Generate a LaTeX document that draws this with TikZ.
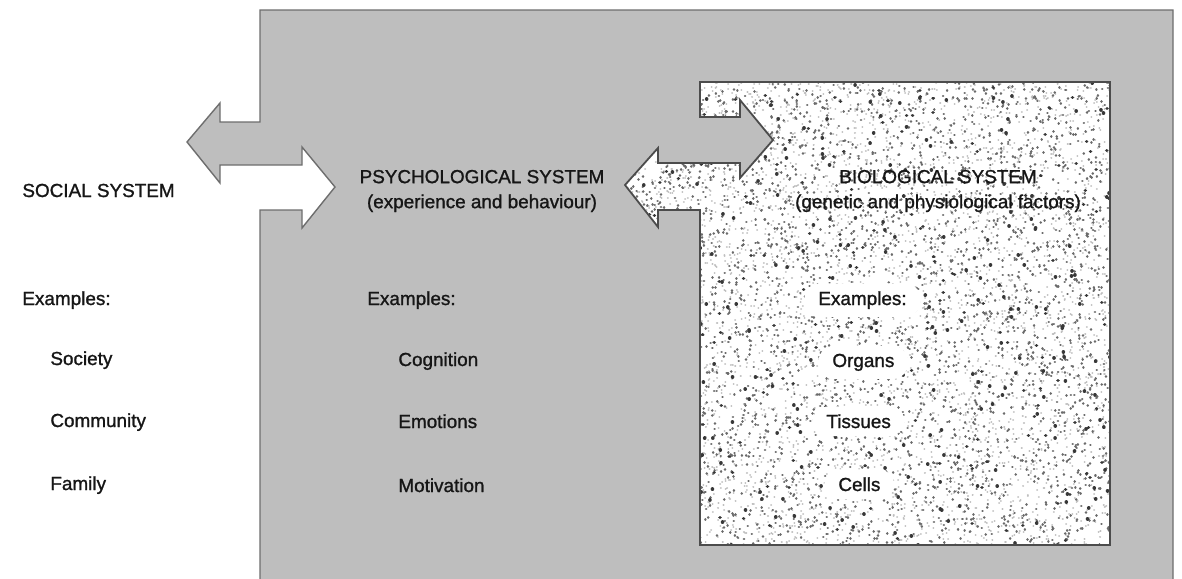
\documentclass[tikz,border=0pt]{standalone}
\usepackage{fontspec}
\setmainfont{Liberation Sans}[FakeBold=1.2]
\definecolor{panel}{RGB}{190,190,190}
\definecolor{edge}{RGB}{110,110,110}
\definecolor{ink}{RGB}{22,22,22}
\begin{document}
\begin{tikzpicture}[x=0.5pt,y=-0.5pt,
  font=\fontsize{9.45}{12.5}\selectfont,
  label/.style={anchor=base west, text=ink, inner sep=0pt},
  title/.style={align=center, text=ink, inner sep=0pt},
  clear/.style={anchor=base west, text=ink, fill=white, rounded corners=8pt,
                inner xsep=7pt, inner ysep=4pt},
  outline/.style={draw=edge, line width=0.7pt, line join=miter},
  speck/.style={line cap=round, line width=#1}]
\useasboundingbox (0,0) rectangle (1182,578);
\fill[white] (0,0) rectangle (1182,578);

% psychological panel with the social double arrow on its left side
\filldraw[panel, outline] (260,10) -- (1173,10) -- (1173,585) -- (260,585)
  -- (260,210) -- (302,210) -- (302,228) -- (335,187) -- (302,147) -- (302,165)
  -- (220,165) -- (220,183) -- (187,142) -- (220,103) -- (220,122) -- (260,122)
  -- cycle;

% biological panel (stippled) with its double arrow
\def\biopath{(700,82) -- (1110,82) -- (1110,545) -- (700,545) -- (700,210)
  -- (658,210) -- (658,227) -- (625,185) -- (658,148) -- (658,163) -- (740,163)
  -- (740,178) -- (773,140) -- (740,100) -- (740,117) -- (700,117) -- cycle}
\fill[white] \biopath;
\begin{scope}
  \clip \biopath;
  \pgfmathsetseed{7}
  % specks: tiny round-capped strokes scattered over the panel
  \draw[speck=1.0pt, gray!50] \foreach \i in {1,...,4000}
    { ({625+485*rnd},{82+463*rnd}) -- ++(0.05,0) };
  \draw[speck=1.3pt, black!58] \foreach \i in {1,...,3500}
    { ({625+485*rnd},{82+463*rnd}) -- ++(0.05,0) };
  \draw[speck=1.8pt, black!78] \foreach \i in {1,...,500}
    { ({625+485*rnd},{82+463*rnd}) -- ++(0.05,0) };
\end{scope}
\draw[outline, draw=black!70, line width=0.9pt] \biopath;

% social system column
\node[label] (social) at (22,197) {SOCIAL SYSTEM};
\node[label] (socex) at (22,305) {Examples:};
\node[label] (society) at (50,365) {Society};
\node[label] (community) at (50,427) {Community};
\node[label] (family) at (50,490) {Family};

% psychological system column
\node[title] (psych) at (482,191) {PSYCHOLOGICAL SYSTEM\\(experience and behaviour)};
\node[label] (psyex) at (367,305) {Examples:};
\node[label] (cognition) at (398,366) {Cognition};
\node[label] (emotions) at (398,428) {Emotions};
\node[label] (motivation) at (398,492) {Motivation};

% biological system column
\node[title] (bio) at (938,191) {BIOLOGICAL SYSTEM\\(genetic and physiological factors)};
\node[clear] (bioex) at (804,305) {Examples:};
\node[clear] (organs) at (818,367) {Organs};
\node[clear] (tissues) at (812,428) {Tissues};
\node[clear] (cells) at (824,491) {Cells};
\end{tikzpicture}
\end{document}
